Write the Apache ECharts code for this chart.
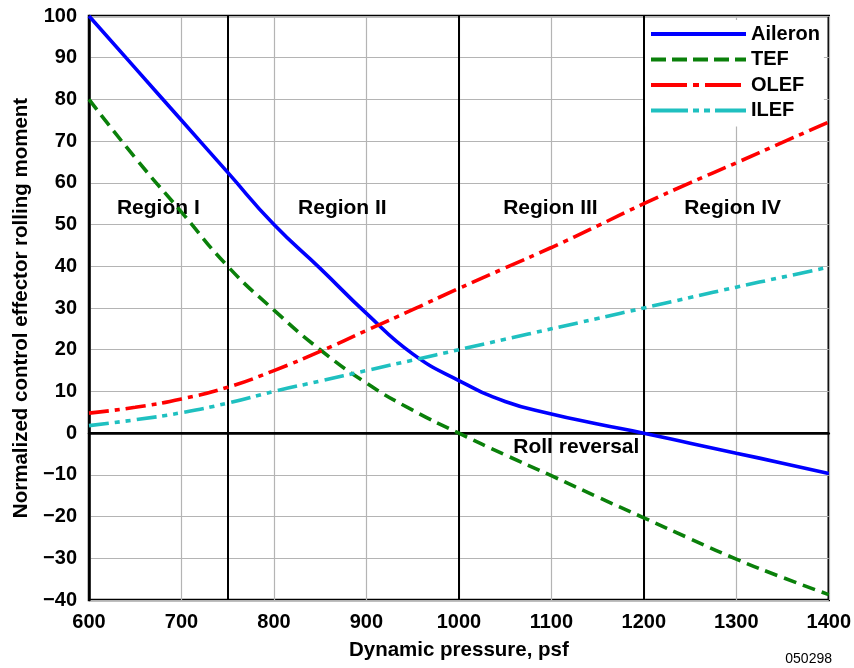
<!DOCTYPE html>
<html><head><meta charset="utf-8">
<script src="https://cdn.jsdelivr.net/npm/echarts@6/dist/echarts.min.js"></script>
<style>html,body{margin:0;padding:0;background:#fff}#c{width:854px;height:668px}</style>
</head><body><div id="c"></div>
<script>
const pressure = [600,650,700,750,800,850,900,950,1000,1050,1100,1150,1200,1250,1300,1350,1400];
const aileron = [100,87.5,75,62.5,50,39.5,28.7,19,12.6,7.6,4.6,2.2,0,-2.4,-4.8,-7.2,-9.7];
const tef = [80,66,53,40,29.5,20,12,5.5,0,-5.2,-10.2,-15.3,-20.3,-25.3,-30.2,-34.6,-38.7];
const olef = [4.8,6.2,8.2,11,15,19.6,24.6,29.6,34.7,39.6,44.5,49.7,55,60,64.8,69.7,74.6];
const ilef = [1.8,3.2,4.9,7.2,10,12.5,15,17.5,20,22.5,25,27.5,30,32.5,35,37.4,39.8];
const regionBounds = [750, 1000, 1200];
const regionLabels = [['Region I',675,54],['Region II',874,54],['Region III',1099,54],['Region IV',1296,54],['Roll reversal',1127,-3.3]];
const xTicks = {min:600,max:1400,step:100};
const yTicks = {min:-40,max:100,step:10};

const FONT = '"Liberation Sans", Arial, Helvetica, sans-serif';
const pair = arr => pressure.map((x,i)=>[x,arr[i]]);
const chart = echarts.init(document.getElementById('c'), null, {renderer:'canvas'});
function lineSeries(name, data, color, dash){
  return {
    name, type:'line', data:pair(data), smooth:0.5, showSymbol:false, symbol:'none',
    lineStyle:{color, width:3.6, type:dash}, itemStyle:{color}, z:5, animation:false
  };
}
chart.setOption({
  animation:false,
  textStyle:{fontFamily:FONT},
  grid:{left:89, right:24, top:16, bottom:68, show:true, borderColor:'#000', borderWidth:2.5, backgroundColor:'transparent'},
  legend:{
    data:[
      {name:'Aileron'},
      {name:'TEF', lineStyle:{type:[15,6]}},
      {name:'OLEF', lineStyle:{type:[36,6,6,6]}},
      {name:'ILEF', lineStyle:{type:[37,5,6,5,6,5]}}
    ],
    orient:'vertical', left:645, top:20, itemWidth:95, itemHeight:14, itemGap:5.5,
    backgroundColor:'#fff', padding:[4,4,6,4],
    itemStyle:{opacity:0},
    lineStyle:{width:4},
    textStyle:{fontFamily:FONT, fontSize:20, fontWeight:'bold', color:'#000'},
    selectedMode:false
  },
  xAxis:{
    type:'value', min:xTicks.min, max:xTicks.max, interval:xTicks.step,
    name:'Dynamic pressure, psf', nameLocation:'middle', nameGap:40,
    nameTextStyle:{fontFamily:FONT, fontSize:20.5, fontWeight:'bold', color:'#000'},
    axisLine:{lineStyle:{color:'#000', width:2.5}},
    axisTick:{show:false},
    axisLabel:{fontFamily:FONT, fontSize:20, fontWeight:'bold', color:'#000', margin:12, formatter:v=>String(v)},
    splitLine:{show:true, lineStyle:{color:'#b4b4b4', width:1.2}}
  },
  yAxis:{
    type:'value', min:yTicks.min, max:yTicks.max, interval:yTicks.step,
    name:'Normalized control effector rolling moment', nameLocation:'middle', nameGap:51, nameRotate:90,
    nameTextStyle:{fontFamily:FONT, fontSize:20.5, fontWeight:'bold', color:'#000'},
    axisLine:{lineStyle:{color:'#000', width:2.5}},
    axisTick:{show:false},
    axisLabel:{fontFamily:FONT, fontSize:20, fontWeight:'bold', color:'#000', margin:12,
      formatter:v=>String(v).replace('-', '\u2212')},
    splitLine:{show:true, lineStyle:{color:'#b4b4b4', width:1.2}}
  },
  graphic:[{type:'text', right:22, bottom:2, style:{text:'050298', font:'14px '+FONT, fill:'#000'}}],
  series:[
    {type:'line', data:[], silent:true, z:3,
     markLine:{silent:true, symbol:'none', label:{show:false}, animation:false,
       lineStyle:{color:'#000', width:2, type:'solid'},
       data:regionBounds.map(x=>({xAxis:x})).concat([{yAxis:0}])}},
    lineSeries('Aileron', aileron, '#0000ff', 'solid'),
    lineSeries('TEF', tef, '#0a800a', [13,7]),
    lineSeries('OLEF', olef, '#ff0000', [20,6,5,6]),
    lineSeries('ILEF', ilef, '#1fc0c0', [20,6,5,6,5,6]),
    {type:'scatter', symbolSize:0, silent:true, z:4, itemStyle:{opacity:1, color:'#000'},
     data:regionLabels.map(r=>({name:r[0], value:[r[1],r[2]]})),
     label:{show:true, position:'inside', formatter:p=>p.name, fontFamily:FONT, fontSize:21, fontWeight:'bold', color:'#000', opacity:1}}
  ]
});
</script></body></html>
